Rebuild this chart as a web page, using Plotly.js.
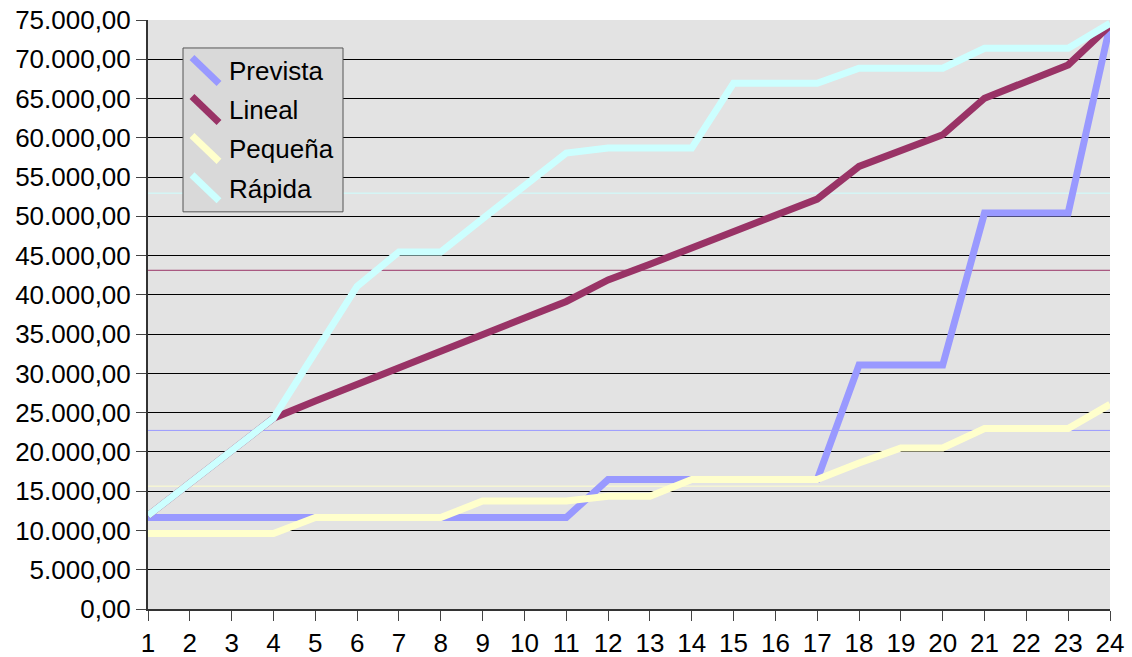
<!DOCTYPE html>
<html>
<head>
<meta charset="utf-8">
<script src="https://cdn.plot.ly/plotly-3.0.1.min.js"></script>
<style>
  html, body { margin: 0; padding: 0; background: #ffffff; }
  #chart { width: 1132px; height: 657px; }
</style>
</head>
<body>
<div id="chart"></div>
<script>
// Periods 1..24 along the horizontal axis
const periods = [1, 2, 3, 4, 5, 6, 7, 8, 9, 10, 11, 12, 13, 14, 15, 16, 17, 18, 19, 20, 21, 22, 23, 24];
const periodLabels = ["1", "2", "3", "4", "5", "6", "7", "8", "9", "10", "11", "12",
                      "13", "14", "15", "16", "17", "18", "19", "20", "21", "22", "23", "24"];

// Series values
const prevista = [11650, 11650, 11650, 11650, 11650, 11650, 11650, 11650, 11650, 11650, 11650, 16480,
                  16480, 16480, 16480, 16480, 16480, 31060, 31060, 31060, 50420, 50420, 50420, 74300];
const lineal   = [11900, 16000, 20000, 24300, 26500, 28650, 30760, 32800, 34900, 37050, 39160, 41900,
                  43900, 46000, 48000, 50100, 52200, 56360, 58470, 60380, 65040, 67160, 69280, 74300];
const pequena  = [9600, 9600, 9600, 9600, 11650, 11650, 11650, 11650, 13740, 13740, 13740, 14360,
                  14360, 16480, 16480, 16480, 16480, 18600, 20500, 20500, 22970, 22970, 22970, 26060];
const rapida   = [11900, 16000, 20000, 24300, 32700, 41100, 45470, 45470, 49700, 53900, 58050, 58690,
                  58690, 58690, 66950, 66950, 66950, 68860, 68860, 68860, 71400, 71400, 71400, 74580];

const seriesNames = ["Prevista", "Lineal", "Pequeña", "Rápida"];
const seriesColors = ["#9999ff", "#993366", "#ffffcc", "#ccffff"];
const seriesValues = [prevista, lineal, pequena, rapida];

const FONT = "Liberation Sans, Arial, sans-serif";

// Plot area geometry in page pixels
const W = 1132, H = 657;
const M = { l: 148, r: 22, t: 20, b: 47.5 };
const plotW = W - M.l - M.r;
const plotH = H - M.t - M.b;
const px = p => (p - M.l) / plotW;
const py = p => (H - M.b - p) / plotH;

const mean = arr => arr.reduce((a, b) => a + b, 0) / arr.length;

const traces = seriesValues.map((vals, i) => ({
  x: periods,
  y: vals,
  type: "scatter",
  mode: "lines",
  name: seriesNames[i],
  line: { color: seriesColors[i], width: 7 },
  hoverinfo: "x+y+name"
}));

const shapes = [];

// Thin average line for each series
seriesValues.forEach((vals, i) => {
  shapes.push({
    type: "line", xref: "paper", yref: "y",
    x0: 0, x1: 1, y0: mean(vals), y1: mean(vals),
    line: { color: seriesColors[i], width: 1 },
    layer: "between"
  });
});

// Legend box
shapes.push({
  type: "rect", xref: "paper", yref: "paper",
  x0: px(183), x1: px(343), y0: py(212), y1: py(48),
  fillcolor: "#d9d9d9", line: { color: "#555555", width: 1 },
  layer: "above"
});

const annotations = [];
const rowCenters = [70.5, 109.5, 148.5, 188];
seriesNames.forEach((name, i) => {
  const c = rowCenters[i];
  shapes.push({
    type: "line", xref: "paper", yref: "paper",
    x0: px(192), y0: py(c - 13), x1: px(219), y1: py(c + 13),
    line: { color: seriesColors[i], width: 7 },
    layer: "above"
  });
  annotations.push({
    xref: "paper", yref: "paper",
    x: px(227), y: py(c + 1),
    xanchor: "left", yanchor: "middle",
    text: name, showarrow: false,
    font: { family: FONT, size: 26, color: "#000000" }
  });
});

const layout = {
  width: W, height: H,
  margin: M,
  paper_bgcolor: "#ffffff",
  plot_bgcolor: "#e3e3e3",
  separators: ",.",
  showlegend: false,
  font: { family: FONT, size: 26, color: "#000000" },
  xaxis: {
    range: [1, 24],
    tickmode: "array",
    tickvals: periods,
    ticktext: periodLabels,
    ticks: "outside", ticklen: 10, tickwidth: 1, tickcolor: "#444444",
    showline: true, linecolor: "#333333", linewidth: 2,
    showgrid: false, zeroline: false,
    tickfont: { family: FONT, size: 26, color: "#000000" }
  },
  yaxis: {
    range: [0, 75000],
    tickmode: "linear", tick0: 0, dtick: 5000,
    tickformat: ",.2f",
    ticks: "outside", ticklen: 10, tickwidth: 1, tickcolor: "#444444",
    showline: true, linecolor: "#333333", linewidth: 2,
    showgrid: true, gridcolor: "#000000", gridwidth: 1,
    zeroline: false,
    tickfont: { family: FONT, size: 26, color: "#000000" }
  },
  shapes: shapes,
  annotations: annotations
};

Plotly.newPlot("chart", traces, layout, { displayModeBar: false, staticPlot: true });
</script>
</body>
</html>
